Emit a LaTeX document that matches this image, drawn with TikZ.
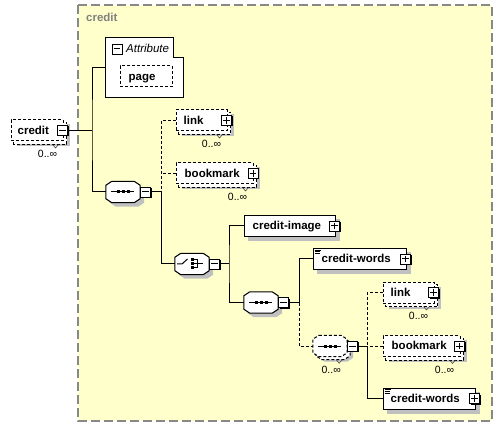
\documentclass[tikz,border=0pt]{standalone}
\usepackage{fontspec}
\setmainfont{Liberation Sans}
\usetikzlibrary{shadows}
\definecolor{panelfill}{RGB}{255,255,204}
\definecolor{panelline}{RGB}{136,136,136}
\definecolor{shadowc}{RGB}{192,192,192}
\definecolor{paneltext}{RGB}{128,128,128}
\pgfdeclarelayer{panel}\pgfdeclarelayer{shade}\pgfdeclarelayer{back}
\pgfsetlayers{panel,shade,back,main}
% shadow of a box node, offset dx,dy (pixels, y down)
\newcommand\boxshadow[3]{\fill[shadowc] ([shift={(#2,#3)}]#1.north west) rectangle ([shift={(#2,#3)}]#1.south east);}
% stacked back copy of a box node
\newcommand\backbox[1]{\draw[optline, fill=white] ([shift={(3,3)}]#1.north west) rectangle ([shift={(3,3)}]#1.south east);}
\newcommand\octpath[1]{([shift={(6,0)}]#1.north west) -- ([shift={(-6,0)}]#1.north east) -- ([shift={(0,4)}]#1.north east) -- ([shift={(0,-4)}]#1.south east) -- ([shift={(-6,0)}]#1.south east) -- ([shift={(6,0)}]#1.south west) -- ([shift={(0,-4)}]#1.south west) -- ([shift={(0,4)}]#1.north west) -- cycle}
\newcommand\seqglyph[1]{%
  \draw[line width=1pt] ([xshift=-12pt]#1.center) -- ([xshift=11pt]#1.center);
  \foreach \d in {-5,0,5}{\fill ([shift={(\d-1.5,-1.5)}]#1.center) rectangle ([shift={(\d+1.5,1.5)}]#1.center);}}
\newcommand\choiceglyph[1]{%
  \draw[line width=1pt] ([shift={(-15,0)}]#1.center) -- ([shift={(-10,0)}]#1.center) -- ([shift={(-4.5,-5)}]#1.center);
  \foreach \d in {-4,0,4}{\fill ([shift={(-1.5,\d-1.5)}]#1.center) rectangle ([shift={(1.5,\d+1.5)}]#1.center);}
  \draw[line width=1pt] ([shift={(1.5,-4)}]#1.center) -- ([shift={(5,-4)}]#1.center) -- ([shift={(5,4)}]#1.center) -- ([shift={(1.5,4)}]#1.center);
  \draw[line width=1pt] ([shift={(1.5,0)}]#1.center) -- ([shift={(11,0)}]#1.center);}
\newcommand\wordsicon[1]{\draw[line width=0.7pt] ([shift={(2,2)}]#1.north west) -- +(6,0) ([shift={(2,3.7)}]#1.north west) -- +(5,0) ([shift={(2,5.4)}]#1.north west) -- +(5,0);}
\newcommand\occnotch[1]{\draw[line width=0.6pt, black!70] ([shift={(-11,3)}]#1.south east) -- ([shift={(-8,6.5)}]#1.south east) -- ([shift={(-5,3)}]#1.south east);}
\begin{document}
\begin{tikzpicture}[x=1pt, y=-1pt,
  optline/.style={line width=1pt, dash pattern=on 3pt off 2pt},
  elem/.style={draw, fill=white, line width=1pt, minimum height=21pt, inner sep=0pt},
  opt/.style={dash pattern=on 3pt off 2pt},
  hidden/.style={minimum width=34pt, minimum height=21pt, inner sep=0pt},
  lbl/.style={anchor=west, inner sep=0pt, font=\bfseries\fontsize{11.5}{13}\selectfont, text height=9.3pt, text depth=1.4pt},
  occ/.style={inner sep=0pt, font=\fontsize{10.5}{12}\selectfont},
  pmbox/.style={draw, fill=white, line width=0.8pt, minimum size=10pt, inner sep=0pt, general shadow={fill=black, shadow xshift=1pt, shadow yshift=-1pt}},
  minus/.style={pmbox, path picture={\draw[line width=1pt] ([xshift=-3.2pt]path picture bounding box.center) -- ([xshift=3.2pt]path picture bounding box.center);}},
  plus/.style={pmbox, path picture={\draw[line width=1pt] ([xshift=-3.2pt]path picture bounding box.center) -- ([xshift=3.2pt]path picture bounding box.center) ([yshift=-3.2pt]path picture bounding box.center) -- ([yshift=3.2pt]path picture bounding box.center);}},
  conn/.style={draw, line width=1pt},
  dconn/.style={conn, dash pattern=on 3pt off 2pt}]
\useasboundingbox (0,0) rectangle (503,430);
% panel
\begin{pgfonlayer}{panel}
\draw[panelline, fill=panelfill, line width=1.5pt, dash pattern=on 9pt off 4pt] (78,5) rectangle (492,421);
\end{pgfonlayer}
\node[lbl, text=paneltext] (paneltitle) at (86,18) {credit};

% Attribute box
\node[minimum width=77pt, minimum height=59pt, inner sep=0pt] (attr) at (144.5,67.5) {};
\draw[fill=white, line width=1pt] (attr.north west) -- ([shift={(-10,0)}]attr.north east) -- ([shift={(-10,20)}]attr.north east) -- ([shift={(0,20)}]attr.north east) -- (attr.south east) -- (attr.south west) -- cycle;
\node[minus] (attr-pm) at (117,49) {};
\node[lbl, font=\itshape\fontsize{11.5}{13}\selectfont] (attr-t) at (126,49) {Attribute};
\node[elem, opt, minimum width=52pt] (page) at (146,76.5) {};
\node[lbl] (page-t) at ([xshift=9pt]page.west) {page};

% element boxes
\node[elem, opt, minimum width=52pt] (credit) at (37,130.5) {};
\node[lbl] (credit-t) at ([xshift=7pt]credit.west) {credit};
\node[elem, opt, minimum width=51pt] (link1) at (201.5,120.5) {};
\node[lbl] (link1-t) at ([xshift=8pt]link1.west) {link};
\node[elem, opt, minimum width=77pt] (bookmark1) at (214.5,173.5) {};
\node[lbl] (bookmark1-t) at ([xshift=9pt]bookmark1.west) {bookmark};
\node[elem, minimum width=91pt] (cimg) at (289.5,226) {};
\node[lbl] (cimg-t) at ([xshift=9pt]cimg.west) {credit-image};
\node[elem, minimum width=93pt] (cw1) at (359.5,259) {};
\node[lbl] (cw1-t) at ([xshift=9pt]cw1.west) {credit-words};
\node[elem, opt, minimum width=51pt] (link2) at (408.5,292.5) {};
\node[lbl] (link2-t) at ([xshift=8pt]link2.west) {link};
\node[elem, opt, minimum width=77pt] (bookmark2) at (421.5,346) {};
\node[lbl] (bookmark2-t) at ([xshift=9pt]bookmark2.west) {bookmark};
\node[elem, minimum width=92pt] (cw2) at (429,398.5) {};
\node[lbl] (cw2-t) at ([xshift=8pt]cw2.west) {credit-words};
\wordsicon{cw1}
\wordsicon{cw2}

% compositors
\node[hidden] (seq1) at (123,192) {};
\node[hidden] (choice) at (192,264) {};
\node[hidden] (seq2) at (261,302.5) {};
\node[hidden] (seq3) at (330,346) {};
\draw[fill=white, line width=1pt] \octpath{seq1};
\draw[fill=white, line width=1pt] \octpath{choice};
\draw[fill=white, line width=1pt] \octpath{seq2};
\draw[fill=white, optline] \octpath{seq3};
\seqglyph{seq1}
\choiceglyph{choice}
\seqglyph{seq2}
\seqglyph{seq3}

% shadows and stacked copies
\begin{pgfonlayer}{shade}
\boxshadow{page}{5}{5}
\boxshadow{credit}{6}{5}
\boxshadow{link1}{6}{5}
\boxshadow{bookmark1}{6}{5}
\boxshadow{cimg}{4}{4}
\boxshadow{cw1}{4}{4}
\boxshadow{link2}{6}{5}
\boxshadow{bookmark2}{6}{5}
\boxshadow{cw2}{4}{4}
\fill[shadowc, transform canvas={shift={(4pt,-4pt)}}] \octpath{seq1};
\fill[shadowc, transform canvas={shift={(4pt,-4pt)}}] \octpath{choice};
\fill[shadowc, transform canvas={shift={(4pt,-4pt)}}] \octpath{seq2};
\fill[shadowc, transform canvas={shift={(6pt,-5pt)}}] \octpath{seq3};
\end{pgfonlayer}
\begin{pgfonlayer}{back}
\backbox{credit}
\backbox{link1}
\backbox{bookmark1}
\backbox{link2}
\backbox{bookmark2}
\draw[fill=white, optline, transform canvas={shift={(3pt,-3pt)}}] \octpath{seq3};
\end{pgfonlayer}
\occnotch{credit}
\occnotch{link1}
\occnotch{bookmark1}
\occnotch{link2}
\occnotch{bookmark2}
\occnotch{seq3}

% occurrence labels
\node[occ] (credit-o) at ([shift={(-16,23.5)}]credit.east) {0..∞};
\node[occ] (link1-o) at ([shift={(-16,23.5)}]link1.east) {0..∞};
\node[occ] (bookmark1-o) at ([shift={(-16,23.5)}]bookmark1.east) {0..∞};
\node[occ] (link2-o) at ([shift={(-16,23.5)}]link2.east) {0..∞};
\node[occ] (bookmark2-o) at ([shift={(-16,23.5)}]bookmark2.east) {0..∞};
\node[occ] (seq3-o) at ([shift={(-16,23.5)}]seq3.east) {0..∞};

% plus / minus boxes
\node[minus] (credit-pm) at (62.5,130.5) {};
\node[plus] (link1-pm) at (226.5,120.5) {};
\node[plus] (bookmark1-pm) at (253,173.5) {};
\node[plus] (cimg-pm) at (334.5,226) {};
\node[plus] (cw1-pm) at (405.5,259) {};
\node[plus] (link2-pm) at (433.5,292.5) {};
\node[plus] (bookmark2-pm) at (459.5,346) {};
\node[plus] (cw2-pm) at (474.5,398.5) {};
\node[minus] (seq1-pm) at (145.5,192) {};
\node[minus] (choice-pm) at (214.5,264) {};
\node[minus] (seq2-pm) at (283.5,302.5) {};
\node[minus] (seq3-pm) at (352.5,346) {};

% junctions
\coordinate (j1) at (92,130.5);
\coordinate (j2) at (161,192);
\coordinate (j3) at (229,264);
\coordinate (j4) at (299,302.5);
\coordinate (j5) at (367,346);

% connectors
\draw[conn] (credit-pm.east) -- (j1);
\draw[conn] (attr.west) -| (j1) |- (seq1.west);
\draw[conn] (seq1-pm.east) -- (j2);
\draw[dconn] (link1.west) -| (j2);
\draw[dconn] (bookmark1.west) -- (bookmark1.west -| j2);
\draw[conn] (j2) |- (choice.west);
\draw[conn] (choice-pm.east) -- (j3);
\draw[conn] (cimg.west) -| (j3) |- (seq2.west);
\draw[conn] (seq2-pm.east) -- (j4);
\draw[conn] (cw1.west) -| (j4);
\draw[dconn] (j4) |- (seq3.west);
\draw[conn] (seq3-pm.east) -- (j5);
\draw[dconn] (link2.west) -| (j5);
\draw[dconn] (bookmark2.west) -- (j5);
\draw[conn] (j5) |- (cw2.west);
\end{tikzpicture}
\end{document}
